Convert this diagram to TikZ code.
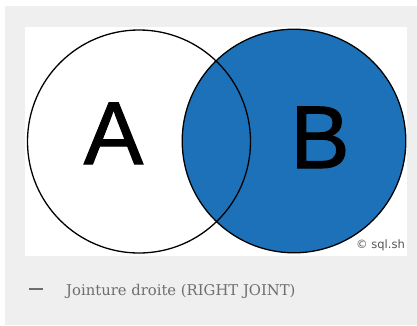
\documentclass[tikz,border=0pt]{standalone}
\usepackage{fontspec}
\setmainfont{DejaVu Serif}
\newfontfamily\letterfont[FakeBold=1.2]{Liberation Sans}
\newfontfamily\smallsans{DejaVu Sans}
\definecolor{bggray}{RGB}{239,239,239}
\definecolor{setblue}{RGB}{29,113,184}
\definecolor{captiongray}{RGB}{110,110,110}
\definecolor{markgray}{RGB}{85,85,85}
\begin{document}
\begin{tikzpicture}[x=1pt,y=-1pt,
  setline/.style={draw=black,line width=1.3pt},
  biglabel/.style={font=\letterfont\fontsize{89}{89}\selectfont,inner sep=0pt,anchor=base},
  caption/.style={font=\fontsize{14.8}{16}\selectfont,text=captiongray,inner sep=0pt,anchor=base west}]
\useasboundingbox (0,0) rectangle (417,325);
\fill[white] (0,0) rectangle (417,325);
\fill[bggray] (5,6) rectangle (417,325);
\fill[white] (25,26.5) rectangle (406.5,255.5);
\coordinate (ca) at (139,141.5);
\coordinate (cb) at (294,141);
\fill[setblue] (cb) circle[radius=111.8];
\draw[setline] (cb) circle[radius=111.8];
\draw[setline] (ca) circle[radius=111.5];
\node[biglabel] (la) at (113.5,164) {A};
\node[biglabel] (lb) at (320,168) {B};
\node[font=\smallsans\fontsize{11.5}{13}\selectfont,text=markgray,inner sep=0pt,anchor=base east] (copy) at (405,248) {© sql.sh};
\draw[captiongray,line width=1.2pt] (29,289) -- (43,289);
\node[caption] (cap) at (66,295) {Jointure droite (RIGHT JOINT)};
\end{tikzpicture}
\end{document}
